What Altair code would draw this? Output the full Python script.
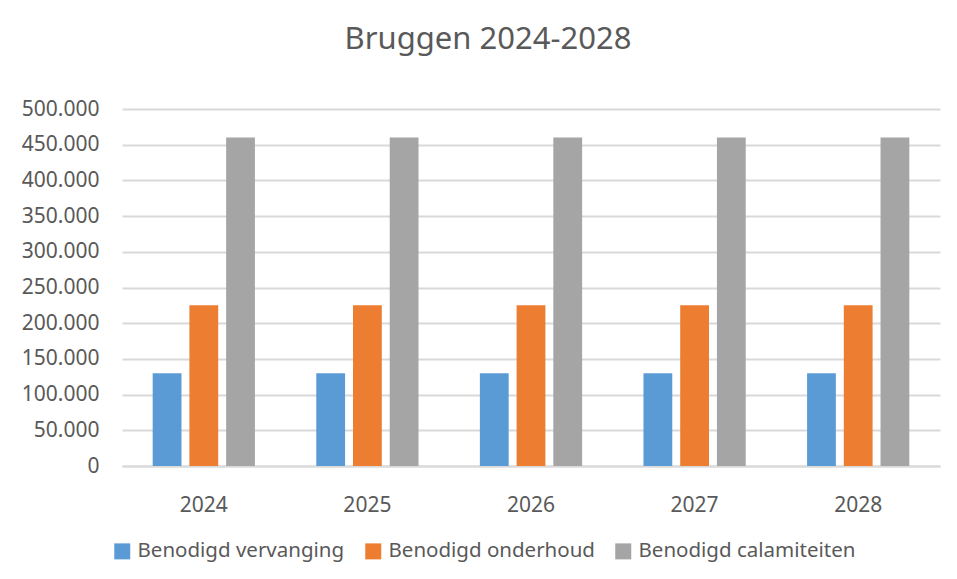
import altair as alt
import pandas as pd

years = ["2024", "2025", "2026", "2027", "2028"]
series = ["Benodigd vervanging", "Benodigd onderhoud", "Benodigd calamiteiten"]
vervanging = [130000, 130000, 130000, 130000, 130000]
onderhoud = [225000, 225000, 225000, 225000, 225000]
calamiteiten = [460000, 460000, 460000, 460000, 460000]
colors = ["#5B9BD5", "#ED7D31", "#A5A5A5"]
y_ticks = [0, 50000, 100000, 150000, 200000, 250000, 300000, 350000, 400000, 450000, 500000]
title_text = "Bruggen 2024-2028"

rows = []
for name, vals in zip(series, [vervanging, onderhoud, calamiteiten]):
    for yr, v in zip(years, vals):
        rows.append({"jaar": yr, "reeks": name, "waarde": v})
df = pd.DataFrame(rows)

FONT = "Noto Sans"
TXT = "#595959"
GRID = "#D9D9D9"

bars = alt.Chart(df).mark_bar().encode(
    x=alt.X("jaar:N", sort=years, title=None,
            scale=alt.Scale(paddingInner=0.375, paddingOuter=0.1875),
            axis=alt.Axis(labelAngle=0, ticks=False, domain=True, domainColor=GRID,
                          domainWidth=2, labelPadding=28, labelFontSize=21,
                          labelColor=TXT, labelFont=FONT, grid=False)),
    xOffset=alt.XOffset("reeks:N", sort=series,
                        scale=alt.Scale(paddingInner=0.216, paddingOuter=0)),
    y=alt.Y("waarde:Q", title=None,
            scale=alt.Scale(domain=[0, 500000]),
            axis=alt.Axis(values=y_ticks,
                          labelExpr="replace(format(datum.value, ',.0f'), ',', '.')",
                          domain=False, ticks=False,
                          labelPadding=23, labelFontSize=21, labelColor=TXT,
                          labelFont=FONT, gridColor=GRID, gridWidth=2)),
    color=alt.Color("reeks:N", sort=series,
                    scale=alt.Scale(domain=series, range=colors),
                    legend=alt.Legend(title=None, orient="none", direction="horizontal",
                                      legendX=-10, legendY=432,
                                      symbolType="square", symbolSize=256,
                                      symbolStrokeWidth=0, labelFontSize=20.5,
                                      labelColor=TXT, labelFont=FONT, labelOffset=5,
                                      labelLimit=0, columnPadding=18)),
)

title = alt.Chart(alt.Data(values=[{"t": title_text}])).mark_text(
    font=FONT, fontSize=31, color=TXT, align="center", baseline="alphabetic"
).encode(
    text="t:N", x=alt.value(366), y=alt.value(-60)
)

chart = alt.layer(bars, title).properties(
    width=818,
    height=357,
    autosize=alt.AutoSizeParams(type="none"),
    padding={"left": 114, "top": 101, "right": 9, "bottom": 105},
).configure_view(stroke=None)

chart.save("out.html", embed_options={"renderer": "svg", "actions": False})
